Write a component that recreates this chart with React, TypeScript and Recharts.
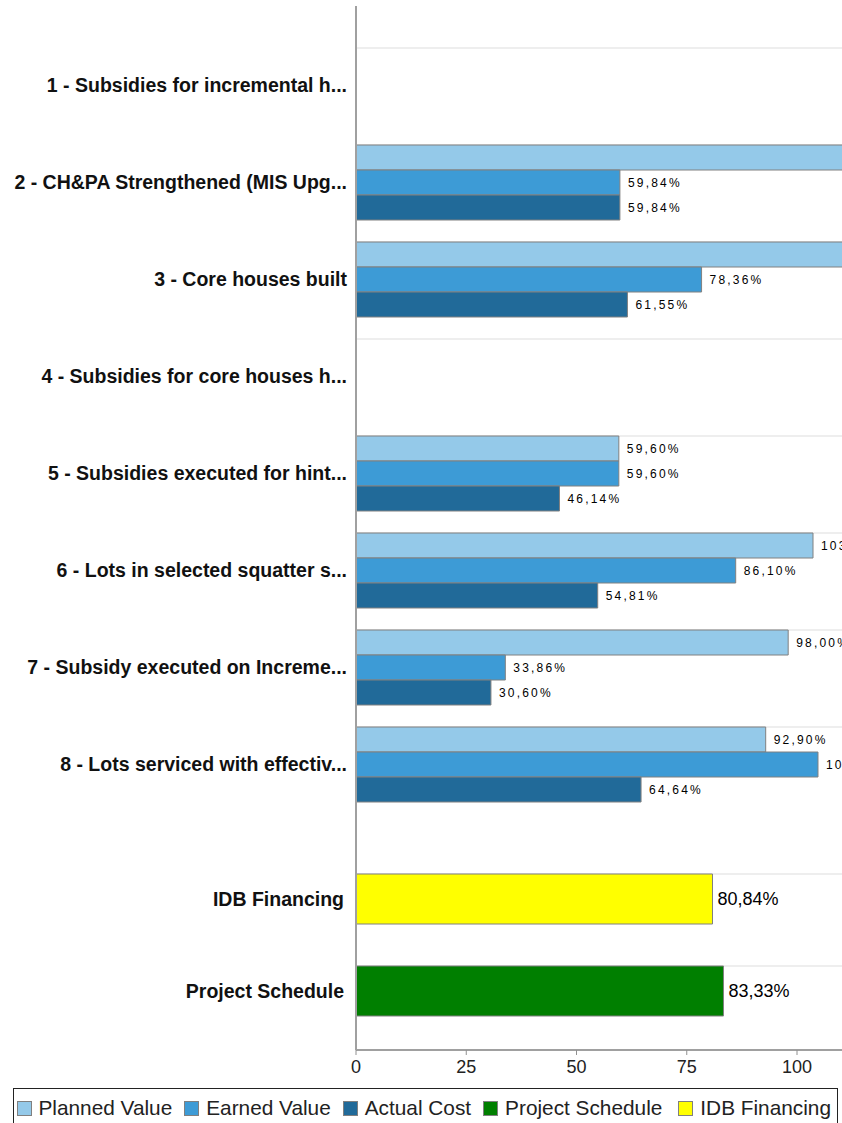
import React from 'react';
import { BarChart, Bar, XAxis, YAxis, CartesianGrid, LabelList, Cell } from 'recharts';

// ---- data ----
const categories = [
  '1 - Subsidies for incremental h...',
  '2 - CH&PA Strengthened (MIS Upg...',
  '3 - Core houses built',
  '4 - Subsidies for core houses h...',
  '5 - Subsidies executed for hint...',
  '6 - Lots in selected squatter s...',
  '7 - Subsidy executed on Increme...',
  '8 - Lots serviced with effectiv...',
];
const plannedValue: (number | null)[] = [null, 118.0, 116.0, null, 59.6, 103.63, 98.0, 92.9];
const earnedValue: (number | null)[] = [null, 59.84, 78.36, null, 59.6, 86.1, 33.86, 104.76];
const actualCost: (number | null)[] = [null, 59.84, 61.55, null, 46.14, 54.81, 30.6, 64.64];

const summaryCategories = ['IDB Financing', 'Project Schedule'];
const summaryValues = [80.84, 83.33];

const xTicks = [0, 25, 50, 75, 100, 125];
const legendNames = ['Planned Value', 'Earned Value', 'Actual Cost', 'Project Schedule', 'IDB Financing'];

// ---- styles ----
const COLORS = {
  planned: '#94C9E9',
  earned: '#3D9BD6',
  actual: '#216A99',
  schedule: '#007F00',
  idb: '#FFFF00',
};
const legendColors = [COLORS.planned, COLORS.earned, COLORS.actual, COLORS.schedule, COLORS.idb];
const summaryColors = [COLORS.idb, COLORS.schedule];
const FONT = '"Liberation Sans", Arial, sans-serif';
const CHART_W = 920;
const MARGIN_R = 12.75;
const Y_W = 356;
const TOP_GAP = 0.1186;
const BOTTOM_GAP = 0.2283;

const mainData = categories.map((name, i) => ({
  name,
  planned: plannedValue[i],
  earned: earnedValue[i],
  actual: actualCost[i],
}));
const summaryData = summaryCategories.map((name, i) => ({ name, value: summaryValues[i] }));

const fmt = (v: number) => v.toFixed(2).replace('.', ',') + '%';

const makeLabel = (fontSize: number, offset: number, letterSpacing: number) => (props: any) => {
  const { x, y, width, height, value } = props;
  if (value == null || value === '') return null;
  return (
    <text
      x={Number(x) + Number(width) + offset}
      y={Number(y) + Number(height) / 2}
      dominantBaseline="central"
      fontSize={fontSize}
      fontFamily={FONT}
      letterSpacing={letterSpacing}
      fill="#000"
    >
      {fmt(Number(value))}
    </text>
  );
};

const smallLabel = makeLabel(12, 8, 2.2);
const bigLabel = makeLabel(18, 5, 0);

const gridGen = (gap: number, cats: string[]) => (args: any) => {
  const yAxis = args?.yAxis;
  const s = yAxis?.scale;
  if (!s) return [];
  const bw = typeof s.bandwidth === 'function' ? s.bandwidth() : 0;
  const toPx = (v: string) => (typeof s === 'function' ? s(v) : typeof s.map === 'function' ? s.map(v) : undefined);
  const out: number[] = [];
  cats.forEach((c) => {
    const p = toPx(c);
    if (typeof p === 'number' && !isNaN(p)) out.push(p + bw * gap);
  });
  return out;
};

const catTick = (props: any) => {
  const { x, y, payload } = props;
  return (
    <text
      x={x}
      y={y}
      textAnchor="end"
      dominantBaseline="central"
      fontSize={19.5}
      fontWeight="bold"
      fontFamily={FONT}
      fill="#111"
    >
      {payload.value}
    </text>
  );
};

export default function App() {
  return (
    <div
      style={{
        position: 'fixed',
        left: 0,
        top: 0,
        width: 842,
        height: 1123,
        overflow: 'hidden',
        background: '#fff',
        fontFamily: FONT,
      }}
    >
      <BarChart
        width={CHART_W}
        height={830}
        data={mainData}
        layout="vertical"
        margin={{ top: 6, right: MARGIN_R, bottom: 0, left: 0 }}
        barCategoryGap={`${TOP_GAP * 100}%`}
        barGap={0}
      >
        <CartesianGrid
          vertical={false}
          stroke="#DDDDDD"
          strokeWidth={1.2}
          horizontalCoordinatesGenerator={gridGen(TOP_GAP, categories)}
        />
        <XAxis type="number" domain={[0, 125]} ticks={xTicks} hide allowDataOverflow />
        <YAxis
          type="category"
          dataKey="name"
          width={Y_W}
          padding={{ top: 30.5, bottom: 17.5 }}
          tickLine={false}
          tickSize={0}
          tickMargin={9}
          axisLine={{ stroke: '#A0A0A0', strokeWidth: 2 }}
          tick={catTick}
          interval={0}
        />
        <Bar dataKey="planned" name={legendNames[0]} fill={COLORS.planned} stroke="#808080" strokeWidth={1} isAnimationActive={false}>
          <LabelList dataKey="planned" content={smallLabel} />
        </Bar>
        <Bar dataKey="earned" name={legendNames[1]} fill={COLORS.earned} stroke="#808080" strokeWidth={1} isAnimationActive={false}>
          <LabelList dataKey="earned" content={smallLabel} />
        </Bar>
        <Bar dataKey="actual" name={legendNames[2]} fill={COLORS.actual} stroke="#808080" strokeWidth={1} isAnimationActive={false}>
          <LabelList dataKey="actual" content={smallLabel} />
        </Bar>
      </BarChart>
      <BarChart
        width={CHART_W}
        height={258}
        data={summaryData}
        layout="vertical"
        margin={{ top: 0, right: MARGIN_R, bottom: 0, left: 0 }}
        barCategoryGap={`${BOTTOM_GAP * 100}%`}
      >
        <CartesianGrid
          vertical={false}
          stroke="#DDDDDD"
          strokeWidth={1.2}
          horizontalCoordinatesGenerator={gridGen(BOTTOM_GAP, summaryCategories)}
        />
        <XAxis
          type="number"
          domain={[0, 125]}
          ticks={xTicks}
          allowDataOverflow
          height={38}
          tickSize={5}
          tickMargin={5}
          axisLine={{ stroke: '#A0A0A0', strokeWidth: 2 }}
          tickLine={{ stroke: '#909090' }}
          tick={{ fontSize: 18, fontFamily: FONT, fill: '#222' }}
        />
        <YAxis
          type="category"
          dataKey="name"
          width={Y_W}
          padding={{ top: 23, bottom: 13 }}
          tickLine={false}
          tickSize={0}
          tickMargin={12}
          axisLine={{ stroke: '#A0A0A0', strokeWidth: 2 }}
          tick={catTick}
          interval={0}
        />
        <Bar dataKey="value" stroke="#808080" strokeWidth={1} isAnimationActive={false}>
          {summaryData.map((d, i) => (
            <Cell key={d.name} fill={summaryColors[i]} />
          ))}
          <LabelList dataKey="value" content={bigLabel} />
        </Bar>
      </BarChart>
      <div
        style={{
          position: 'absolute',
          left: 13,
          top: 1088,
          width: 825,
          height: 44,
          border: '1.5px solid #222',
          boxSizing: 'border-box',
          display: 'flex',
          alignItems: 'flex-start',
          paddingLeft: 2.5,
          paddingTop: 8,
          whiteSpace: 'nowrap',
        }}
      >
        {legendNames.map((n, i) => (
          <div key={n} style={{ display: 'flex', alignItems: 'center', marginRight: i === 3 ? 16 : 12 }}>
            <span
              style={{
                display: 'inline-block',
                width: 13,
                height: 13,
                background: legendColors[i],
                border: '1px solid #808080',
                marginRight: 7,
              }}
            />
            <span style={{ fontSize: 20.8, lineHeight: '22px', color: '#222' }}>{n}</span>
          </div>
        ))}
      </div>
    </div>
  );
}
